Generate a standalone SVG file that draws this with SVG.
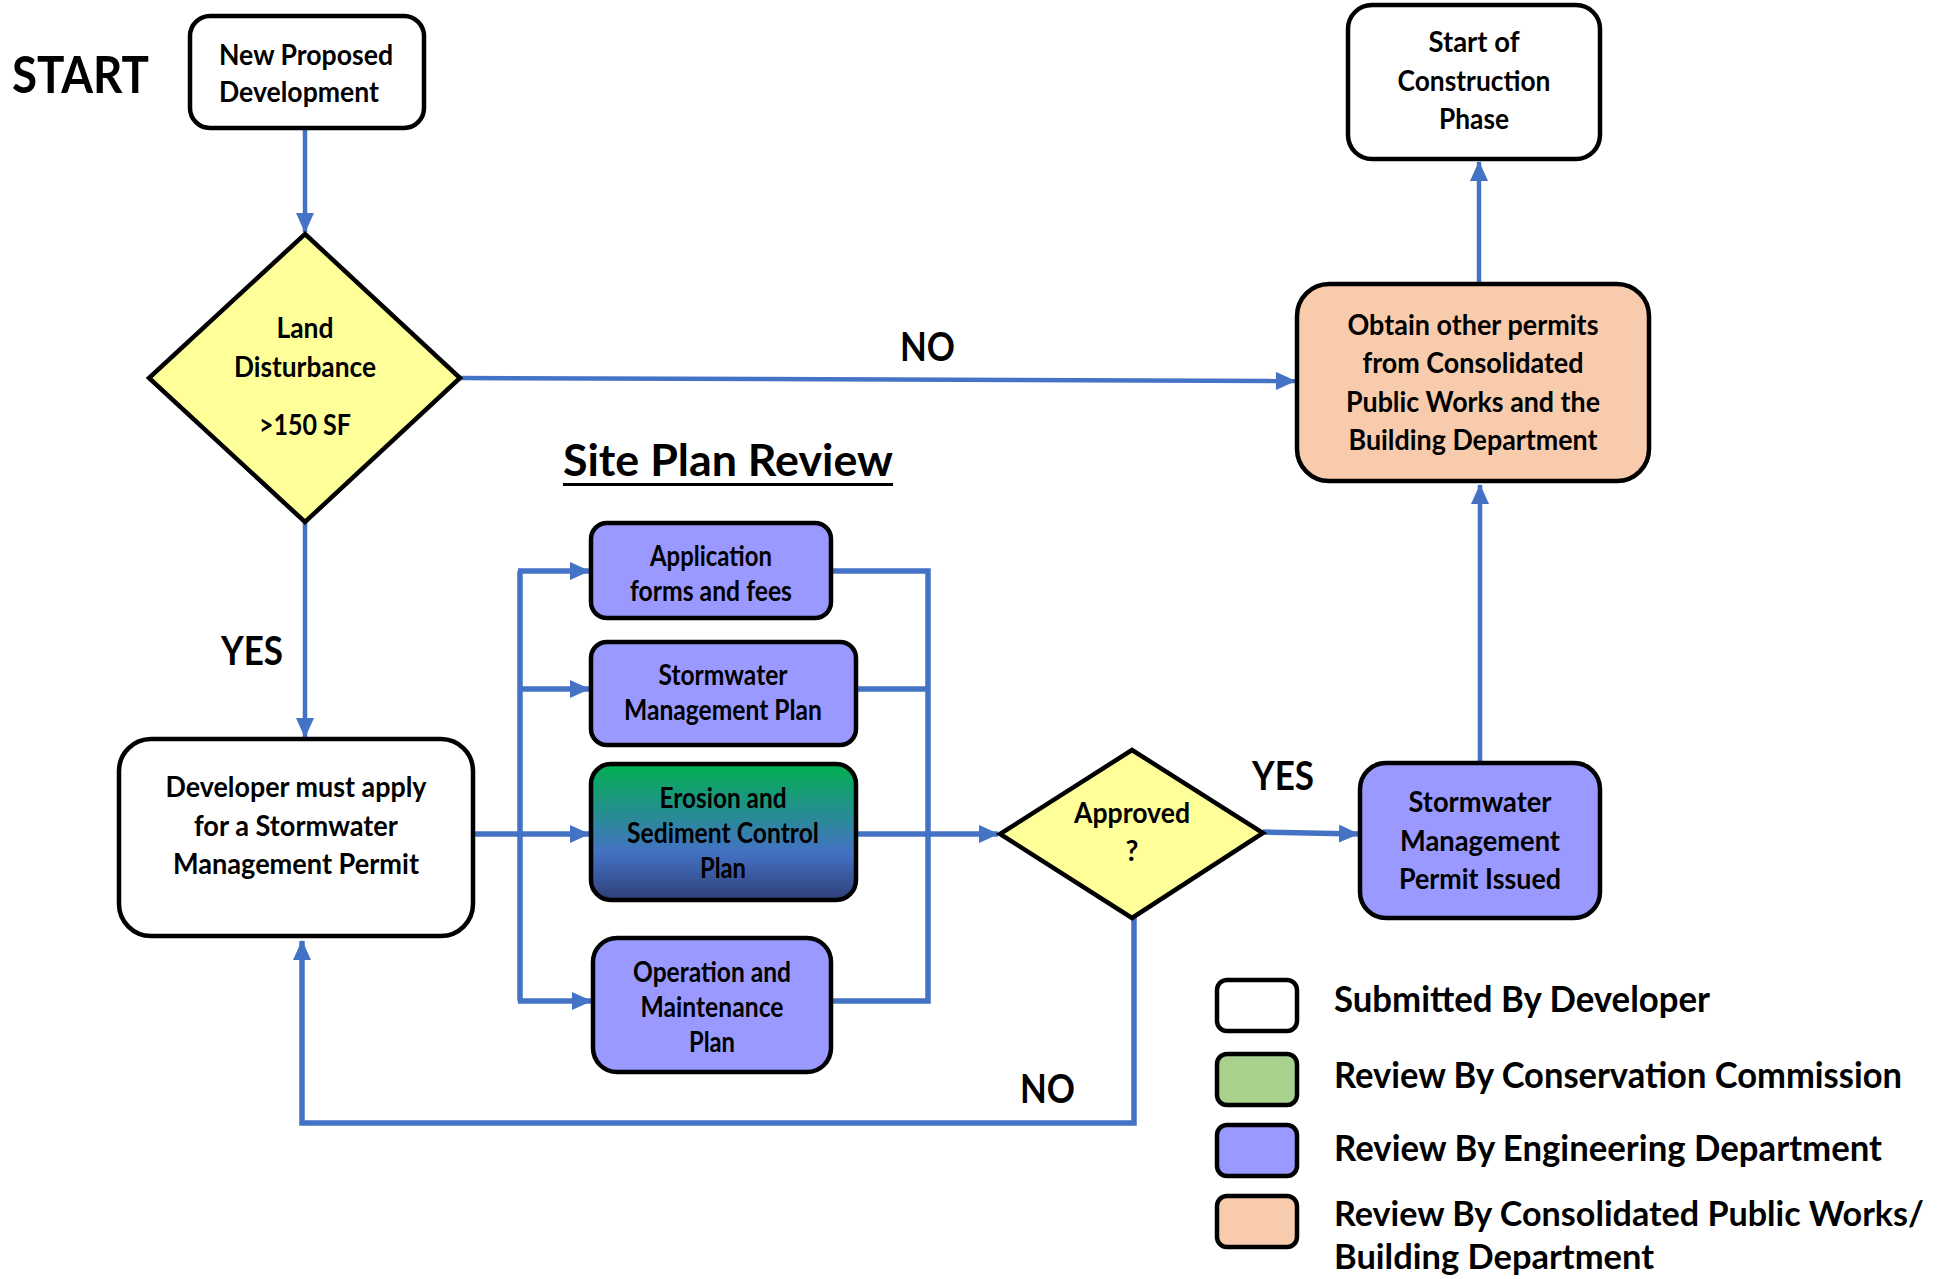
<svg xmlns="http://www.w3.org/2000/svg" width="1950" height="1279" viewBox="0 0 1950 1279">
<style>
.box{stroke:#000;stroke-width:4.5}
.t{font-family:Lato,"Noto Sans","Liberation Sans",sans-serif;font-weight:bold;fill:#000}
.n{font-size:28px;text-anchor:middle}
.lg{font-size:36px}
.lg2{font-size:34px}
.big{font-size:40px}
.c{fill:none;stroke:#4472C4;stroke-width:4.5}
.cb{fill:none;stroke:#4472C4;stroke-width:5.5}
</style>
<defs>
<marker id="ah" viewBox="0 0 20 18" refX="19" refY="9" markerWidth="20" markerHeight="18" markerUnits="userSpaceOnUse" orient="auto">
<path d="M0,0 L20,9 L0,18 z" fill="#4472C4"/>
</marker>
<linearGradient id="gesc" x1="0" y1="0" x2="0" y2="1">
<stop offset="0" stop-color="#00B050"/>
<stop offset="0.65" stop-color="#4472C4"/>
<stop offset="1" stop-color="#2F3F78"/>
</linearGradient>
</defs>

<text class="t" x="12" y="93" font-size="52" textLength="137" lengthAdjust="spacingAndGlyphs">START</text>

<g id="connectors">
<path class="c" d="M305,128 L305,232" marker-end="url(#ah)"/>
<path class="c" d="M460,378 L1295,381" marker-end="url(#ah)"/>
<path class="c" d="M305,522 L305,737" marker-end="url(#ah)"/>
<path class="cb" d="M473,834 L589,834" marker-end="url(#ah)"/>
<path class="cb" d="M520,571 L520,1001"/>
<path class="cb" d="M518,571 L589,571" marker-end="url(#ah)"/>
<path class="cb" d="M518,689 L589,689" marker-end="url(#ah)"/>
<path class="cb" d="M518,1001 L591,1001" marker-end="url(#ah)"/>
<path class="cb" d="M831,571 L928,571 L928,1001 L831,1001"/>
<path class="cb" d="M856,689 L928,689"/>
<path class="cb" d="M856,834 L998,834" marker-end="url(#ah)"/>
<path class="cb" d="M1263,832 L1358,834" marker-end="url(#ah)"/>
<path class="c" d="M1480,762 L1480,485" marker-end="url(#ah)"/>
<path class="c" d="M1479,284 L1479,162" marker-end="url(#ah)"/>
<path class="cb" d="M1134,918 L1134,1123 L302,1123 L302,941" marker-end="url(#ah)"/>
</g>

<g id="new-dev">
<rect class="box" x="190" y="16" width="234" height="112" rx="20" fill="#fff"/>
<text class="t" font-size="28" x="219" y="65" textLength="174" lengthAdjust="spacingAndGlyphs">New Proposed</text>
<text class="t" font-size="28" x="219" y="102" textLength="160" lengthAdjust="spacingAndGlyphs">Development</text>
</g>

<g id="land">
<path class="box" d="M305,234 L460,378 L305,522 L149,378 z" fill="#FFFF99"/>
<text class="t n" x="305" y="338" textLength="57" lengthAdjust="spacingAndGlyphs">Land</text>
<text class="t n" x="305" y="377" textLength="142" lengthAdjust="spacingAndGlyphs">Disturbance</text>
<text class="t n" x="305" y="435" textLength="92" lengthAdjust="spacingAndGlyphs">&gt;150 SF</text>
</g>

<text class="t big" x="900" y="361" textLength="55" lengthAdjust="spacingAndGlyphs">NO</text>
<text class="t big" x="221" y="665" textLength="62" lengthAdjust="spacingAndGlyphs">YES</text>
<text class="t big" x="1252" y="790" textLength="62" lengthAdjust="spacingAndGlyphs">YES</text>
<text class="t big" x="1020" y="1103" textLength="55" lengthAdjust="spacingAndGlyphs">NO</text>

<g id="other-permits">
<rect class="box" x="1297" y="284" width="352" height="197" rx="32" fill="#F8CBAD"/>
<text class="t n" x="1473" y="335" textLength="251" lengthAdjust="spacingAndGlyphs">Obtain other permits</text>
<text class="t n" x="1473" y="373" textLength="221" lengthAdjust="spacingAndGlyphs">from Consolidated</text>
<text class="t n" x="1473" y="412" textLength="254" lengthAdjust="spacingAndGlyphs">Public Works and the</text>
<text class="t n" x="1473" y="450" textLength="249" lengthAdjust="spacingAndGlyphs">Building Department</text>
</g>

<g id="start-construction">
<rect class="box" x="1348" y="5" width="252" height="154" rx="24" fill="#fff"/>
<text class="t n" x="1474" y="52" textLength="91" lengthAdjust="spacingAndGlyphs">Start of</text>
<text class="t n" x="1474" y="91" textLength="153" lengthAdjust="spacingAndGlyphs">Construction</text>
<text class="t n" x="1474" y="129" textLength="70" lengthAdjust="spacingAndGlyphs">Phase</text>
</g>

<g id="site-plan-title">
<text class="t" x="563" y="476" font-size="44" textLength="330" lengthAdjust="spacingAndGlyphs">Site Plan Review</text>
<rect x="563" y="483" width="330" height="3" fill="#000"/>
</g>

<g id="developer">
<rect class="box" x="119" y="739" width="354" height="197" rx="32" fill="#fff"/>
<text class="t n" x="296" y="797" textLength="261" lengthAdjust="spacingAndGlyphs">Developer must apply</text>
<text class="t n" x="296" y="836" textLength="204" lengthAdjust="spacingAndGlyphs">for a Stormwater</text>
<text class="t n" x="296" y="874" textLength="246" lengthAdjust="spacingAndGlyphs">Management Permit</text>
</g>

<g id="application">
<rect class="box" x="591" y="523" width="240" height="95" rx="16" fill="#9999FF"/>
<text class="t n" x="711" y="566" textLength="122" lengthAdjust="spacingAndGlyphs">Application</text>
<text class="t n" x="711" y="601" textLength="162" lengthAdjust="spacingAndGlyphs">forms and fees</text>
</g>

<g id="swmp">
<rect class="box" x="591" y="642" width="265" height="103" rx="16" fill="#9999FF"/>
<text class="t n" x="723" y="685" textLength="129" lengthAdjust="spacingAndGlyphs">Stormwater</text>
<text class="t n" x="723" y="720" textLength="198" lengthAdjust="spacingAndGlyphs">Management Plan</text>
</g>

<g id="esc">
<rect class="box" x="591" y="764" width="265" height="136" rx="20" fill="url(#gesc)"/>
<text class="t n" x="723" y="808" textLength="127" lengthAdjust="spacingAndGlyphs">Erosion and</text>
<text class="t n" x="723" y="843" textLength="192" lengthAdjust="spacingAndGlyphs">Sediment Control</text>
<text class="t n" x="723" y="878" textLength="46" lengthAdjust="spacingAndGlyphs">Plan</text>
</g>

<g id="om">
<rect class="box" x="593" y="938" width="238" height="134" rx="24" fill="#9999FF"/>
<text class="t n" x="712" y="982" textLength="158" lengthAdjust="spacingAndGlyphs">Operation and</text>
<text class="t n" x="712" y="1017" textLength="143" lengthAdjust="spacingAndGlyphs">Maintenance</text>
<text class="t n" x="712" y="1052" textLength="46" lengthAdjust="spacingAndGlyphs">Plan</text>
</g>

<g id="approved">
<path class="box" d="M1132,750 L1263,833 L1132,918 L1000,834 z" fill="#FFFF99"/>
<text class="t n" x="1132" y="823" textLength="116" lengthAdjust="spacingAndGlyphs">Approved</text>
<text class="t n" x="1132" y="861">?</text>
</g>

<g id="permit-issued">
<rect class="box" x="1360" y="763" width="240" height="155" rx="26" fill="#9999FF"/>
<text class="t n" x="1480" y="812" textLength="143" lengthAdjust="spacingAndGlyphs">Stormwater</text>
<text class="t n" x="1480" y="851" textLength="160" lengthAdjust="spacingAndGlyphs">Management</text>
<text class="t n" x="1480" y="889" textLength="162" lengthAdjust="spacingAndGlyphs">Permit Issued</text>
</g>

<g id="legend">
<rect class="box" x="1217" y="980" width="80" height="51" rx="10" fill="#fff"/>
<rect class="box" x="1217" y="1054" width="80" height="51" rx="10" fill="#A9D18E"/>
<rect class="box" x="1217" y="1125" width="80" height="51" rx="10" fill="#9999FF"/>
<rect class="box" x="1217" y="1196" width="80" height="51" rx="10" fill="#F8CBAD"/>
<text class="t lg" x="1334" y="1012" textLength="376" lengthAdjust="spacingAndGlyphs">Submitted By Developer</text>
<text class="t lg" x="1334" y="1088" textLength="568" lengthAdjust="spacingAndGlyphs">Review By Conservation Commission</text>
<text class="t lg" x="1334" y="1161" textLength="548" lengthAdjust="spacingAndGlyphs">Review By Engineering Department</text>
<text class="t lg2" x="1334" y="1226" textLength="590" lengthAdjust="spacingAndGlyphs">Review By Consolidated Public Works/</text>
<text class="t lg2" x="1334" y="1269" textLength="320" lengthAdjust="spacingAndGlyphs">Building Department</text>
</g>
</svg>
